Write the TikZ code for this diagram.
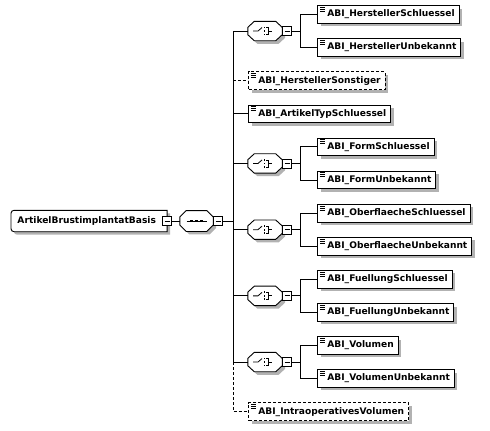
\documentclass[tikz,border=0pt]{standalone}
\usepackage{fontspec}
\setmainfont{DejaVu Sans}
\usetikzlibrary{shadows}
\pgfdeclarelayer{background}
\pgfsetlayers{background,main}
\tikzset{
  shd/.style={general shadow={fill=black!30, shadow xshift=3pt, shadow yshift=-3pt}},
  conn/.style={draw, line width=0.9pt},
  dsh/.style={dash pattern=on 3pt off 2pt},
  lbl/.style={font=\fontsize{9.1pt}{10pt}\selectfont\bfseries},
  elembox/.style={lbl, draw, fill=white, shd, line width=0.9pt, minimum height=17.7pt,
    inner xsep=0pt, inner ysep=0pt, anchor=west,
    path picture={\draw[solid, line width=0.7pt]
      ([shift={(2pt,-1.6pt)}]path picture bounding box.north west) -- ++(5.5pt,0pt)
      ([shift={(2pt,-3.6pt)}]path picture bounding box.north west) -- ++(5.5pt,0pt)
      ([shift={(2pt,-5.6pt)}]path picture bounding box.north west) -- ++(5.5pt,0pt);}},
  optbox/.style={elembox, dsh},
  rootbox/.style={lbl, minimum height=21pt, inner xsep=0pt, inner ysep=0pt, anchor=west},
  octnode/.style={minimum width=34pt, minimum height=19pt, inner sep=0pt},
  seqnode/.style={minimum width=33pt, minimum height=20.5pt, inner sep=0pt},
  octline/.style={draw, fill=white, shd, line width=0.9pt},
  icon/.style={line width=0.8pt},
  minusbox/.style={draw, fill=white, line width=0.9pt, minimum size=9pt, inner sep=0pt,
    path picture={\draw[line width=0.9pt] ([xshift=2pt]path picture bounding box.west) -- ([xshift=-2pt]path picture bounding box.east);}}
}
\newcommand{\elemtext}[1]{\hspace*{9.6pt}#1\hspace*{4.4pt}}
\newcommand{\choicegrp}[2]{%
  \node[octnode] (#1) at (265,#2) {};
  \path[octline] ([xshift=6.5pt]#1.north west) -- ([xshift=-6.5pt]#1.north east) -- ([yshift=-6pt]#1.north east) -- ([yshift=6pt]#1.south east) -- ([xshift=-6.5pt]#1.south east) -- ([xshift=6.5pt]#1.south west) -- ([yshift=6pt]#1.south west) -- ([yshift=-6pt]#1.north west) -- cycle;
  \draw[icon] ([xshift=-12pt]#1.center) -- ([xshift=-7pt]#1.center) -- ([shift={(-3pt,3.5pt)}]#1.center);
  \fill ([shift={(-1.4pt,2.6pt)}]#1.center) rectangle ++(1.8pt,1.8pt);
  \fill ([shift={(-1.4pt,-0.9pt)}]#1.center) rectangle ++(1.8pt,1.8pt);
  \fill ([shift={(-1.4pt,-4.4pt)}]#1.center) rectangle ++(1.8pt,1.8pt);
  \draw[icon] ([shift={(1.3pt,3.5pt)}]#1.center) -- ([shift={(3pt,3.5pt)}]#1.center) -- ([shift={(3pt,-3.5pt)}]#1.center) -- ([shift={(1.3pt,-3.5pt)}]#1.center);
  \draw[icon] ([xshift=3pt]#1.center) -- ([xshift=7pt]#1.center);
  \node[minusbox, anchor=west] (#1m) at (#1.east) {};
  \coordinate (#1b) at (300.7,#2);
  \draw[conn] (#1m) -- (#1b);
}
\begin{document}
\begin{tikzpicture}[x=1pt, y=-1pt]
\useasboundingbox (0,0) rectangle (490,431);

% root
\node[rootbox] (root) at (11,221) {\hspace*{6.3pt}ArtikelBrustimplantatBasis\hspace*{11pt}};
\begin{pgfonlayer}{background}
\path[draw, fill=white, shd, line width=0.9pt] (root.north east) [rounded corners=3pt] -- (root.north west) -- (root.south west) [sharp corners] -- (root.south east) -- cycle;
\end{pgfonlayer}
\node[minusbox] (rootm) at (root.east) {};

% sequence
\node[seqnode] (seq) at (196.5,221) {};
\path[octline] ([xshift=6.5pt]seq.north west) -- ([xshift=-6.5pt]seq.north east) -- ([yshift=-6.5pt]seq.north east) -- ([yshift=6.5pt]seq.south east) -- ([xshift=-6.5pt]seq.south east) -- ([xshift=6.5pt]seq.south west) -- ([yshift=6.5pt]seq.south west) -- ([yshift=-6.5pt]seq.north west) -- cycle;
\draw[icon] ([xshift=-10pt]seq.center) -- ([xshift=10pt]seq.center);
\fill ([shift={(-6.1pt,-1.1pt)}]seq.center) rectangle ++(2.2pt,2.2pt);
\fill ([shift={(-1.1pt,-1.1pt)}]seq.center) rectangle ++(2.2pt,2.2pt);
\fill ([shift={(3.9pt,-1.1pt)}]seq.center) rectangle ++(2.2pt,2.2pt);
\node[minusbox, anchor=west] (seqm) at (seq.east) {};
\draw[conn] (rootm) -- (seq);
\coordinate (bus) at (233.3,221);
\draw[conn] (seqm) -- (bus);

% choices
\choicegrp{ca}{31.05}
\choicegrp{cb}{163.45}
\choicegrp{cc}{229.65}
\choicegrp{cd}{295.85}
\choicegrp{ce}{362.05}

% elements
\node[elembox] (hs) at (317.3,14.5) {\elemtext{ABI\_HerstellerSchluessel}};
\node[elembox] (hu) at (317.3,47.6) {\elemtext{ABI\_HerstellerUnbekannt}};
\node[optbox] (hso) at (248.3,80.7) {\elemtext{ABI\_HerstellerSonstiger}};
\node[elembox] (ats) at (248.3,113.8) {\elemtext{ABI\_ArtikelTypSchluessel}};
\node[elembox] (fs) at (317.3,146.9) {\elemtext{ABI\_FormSchluessel}};
\node[elembox] (fu) at (317.3,180) {\elemtext{ABI\_FormUnbekannt}};
\node[elembox] (os) at (317.3,213.1) {\elemtext{ABI\_OberflaecheSchluessel}};
\node[elembox] (ou) at (317.3,246.2) {\elemtext{ABI\_OberflaecheUnbekannt}};
\node[elembox] (fls) at (317.3,279.3) {\elemtext{ABI\_FuellungSchluessel}};
\node[elembox] (flu) at (317.3,312.4) {\elemtext{ABI\_FuellungUnbekannt}};
\node[elembox] (vol) at (317.3,345.5) {\elemtext{ABI\_Volumen}};
\node[elembox] (vu) at (317.3,378.6) {\elemtext{ABI\_VolumenUnbekannt}};
\node[optbox] (iov) at (248.3,411.7) {\elemtext{ABI\_IntraoperativesVolumen}};

% top-level branches
\draw[conn] (bus) |- (ca);
\draw[conn] (bus) |- (ats);
\draw[conn] (bus) |- (cb);
\draw[conn] (bus) |- (cc);
\draw[conn] (bus) |- (cd);
\draw[conn] (bus) |- (ce);
\draw[conn, dsh] (bus |- hso) -- (hso);
\draw[conn, dsh] (bus |- ce) |- (iov);

% choice branches
\draw[conn] (cab) |- (hs);
\draw[conn] (cab) |- (hu);
\draw[conn] (cbb) |- (fs);
\draw[conn] (cbb) |- (fu);
\draw[conn] (ccb) |- (os);
\draw[conn] (ccb) |- (ou);
\draw[conn] (cdb) |- (fls);
\draw[conn] (cdb) |- (flu);
\draw[conn] (ceb) |- (vol);
\draw[conn] (ceb) |- (vu);
\end{tikzpicture}
\end{document}
